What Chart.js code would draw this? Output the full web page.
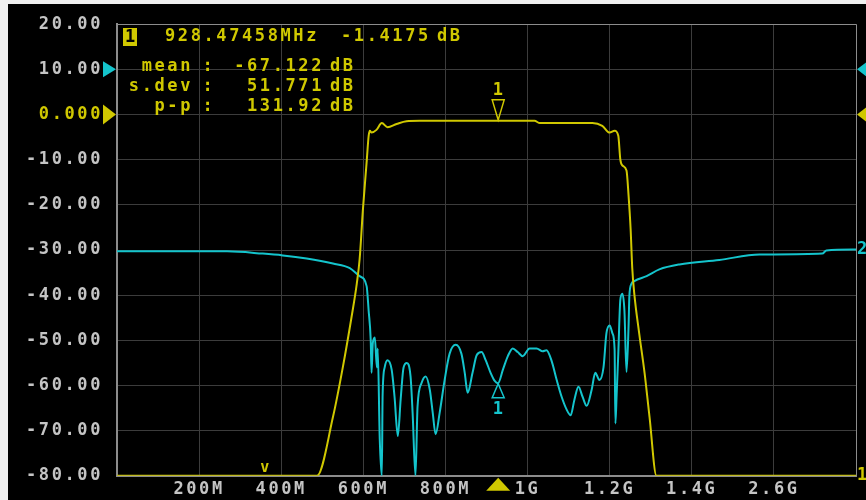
<!DOCTYPE html>
<html>
<head>
<meta charset="utf-8">
<script src="https://cdn.jsdelivr.net/npm/chart.js@4.4.1/dist/chart.umd.min.js"></script>
<style>
body { margin: 0; background: #f0f0f0; }
canvas { display: block; }
</style>
</head>
<body>
<canvas id="grafico" width="866" height="500"></canvas>
<script>
// traço 1 (amarelo) - frequencia em MHz / nivel em dB
const freqTrc1 = [0, 487, 526, 550, 571, 584, 591, 599, 608, 613, 616, 620, 632, 645, 659, 681, 705, 737, 1017, 1030, 1158, 1182, 1200, 1212, 1221, 1226, 1231, 1241, 1246, 1251, 1255, 1260, 1272, 1285, 1297, 1314, 1800]
const dbTrc1 = [-80, -80, -67, -56, -45, -37.5, -32, -21, -10.6, -4.7, -3.6, -4.0, -3.4, -1.9, -2.8, -2.1, -1.5, -1.4, -1.4, -1.9, -1.9, -2.5, -4.0, -3.6, -4.7, -10, -11.3, -12.4, -17.9, -25.3, -34, -39.7, -48.5, -57.2, -66.9, -80, -80]

// traço 2 (ciano)
const freqTrc2 = [0, 268, 355, 404, 462, 526, 567, 591, 608, 613, 618, 620, 623, 628, 633, 635, 640, 645, 647, 652, 659, 669, 676, 684, 691, 698, 706, 715, 720, 727, 732, 742, 752, 762, 769, 776, 786, 798, 810, 825, 839, 847, 854, 866, 876, 888, 898, 910, 920, 928, 940, 952, 964, 976, 988, 1005, 1022, 1037, 1046, 1058, 1071, 1083, 1095, 1105, 1114, 1124, 1134, 1144, 1156, 1165, 1175, 1185, 1192, 1200, 1207, 1212, 1214, 1217, 1221, 1226, 1231, 1236, 1241, 1246, 1248, 1253, 1260, 1290, 1321, 1370, 1467, 1565, 1718, 1728, 1800]
const dbTrc2 = [-30.3, -30.3, -30.8, -31.2, -31.9, -33, -34, -35.8, -38, -43.5, -50, -57.2, -50.7, -49.4, -56, -51.8, -71.9, -80, -62, -56, -54.4, -56.5, -62.5, -71.2, -63, -56, -55, -58, -66, -80, -64.7, -59.4, -58, -61, -66, -70.8, -66, -58.8, -53, -51, -53, -57.2, -61.6, -57.2, -53.3, -52.6, -54.4, -57.2, -59, -59.5, -56.5, -53.5, -51.8, -52.6, -53.5, -51.8, -51.8, -52.4, -52.2, -54.4, -58.8, -62.5, -65.3, -66.6, -63.2, -60.3, -62.5, -64.5, -61, -57.2, -58.8, -56, -48.5, -46.7, -48.5, -52, -68.4, -62, -53, -41, -39.7, -43.5, -57, -47, -40.2, -37.5, -36.9, -35.8, -34.3, -33.2, -32.2, -31, -30.8, -30.1, -29.9]

// eixos
const xTickValores = [200, 400, 600, 800, 1000, 1200, 1400, 1600]
const xTickTextos = ['200M', '400M', '600M', '800M', '1G', '1.2G', '1.4G', '2.6G']
const refTrc1 = 0
const refTrc2 = 10

// marcador e estatisticas
const markerFreq = 928.47458
const markerTexto = ['928.47458MHz', '-1.4175', 'dB']
const statsNomes = ['mean', 's.dev', 'p-p']
const statsValores = ['-67.122', '51.771', '131.92']

const amarelo = '#d0c800'
const ciano = '#14c4cc'
const cinzaTexto = '#c4c4c4'
const fonte = '"DejaVu Sans Mono", monospace'
const espaco = '2.6px'

function pontos(fs, dbs) {
    return fs.map((f, i) => ({x: f, y: dbs[i]}))
}

function valorEm(fs, dbs, f) {
    for (let i = 1; i < fs.length; i++) {
        if (f <= fs[i]) {
            const t = (f - fs[i-1]) / (fs[i] - fs[i-1])
            return dbs[i-1] + t * (dbs[i] - dbs[i-1])
        }
    }
    return dbs[dbs.length-1]
}

function triangulo(ctx, pts, cor, cheio) {
    ctx.beginPath()
    ctx.moveTo(pts[0][0], pts[0][1])
    ctx.lineTo(pts[1][0], pts[1][1])
    ctx.lineTo(pts[2][0], pts[2][1])
    ctx.closePath()
    if (cheio) {
        ctx.fillStyle = cor
        ctx.fill()
    } else {
        ctx.strokeStyle = cor
        ctx.lineWidth = 1.5
        ctx.stroke()
    }
}

// fundo preto + espaçamento das letras
const fundo = {
    id: 'fundo',
    beforeUpdate(chart) {
        chart.ctx.letterSpacing = espaco
    },
    beforeDraw(chart) {
        const ctx = chart.ctx
        ctx.fillStyle = '#f0f0f0'
        ctx.fillRect(0, 0, chart.width, chart.height)
        ctx.fillStyle = '#000'
        ctx.fillRect(8, 4, chart.width - 8, chart.height - 4)
        ctx.letterSpacing = espaco
    }
}

const sobreposicao = {
    id: 'sobreposicao',
    afterDraw(chart) {
        const ctx = chart.ctx
        const x = chart.scales.x
        const y = chart.scales.y
        const area = chart.chartArea
        ctx.save()
        ctx.letterSpacing = espaco
        ctx.font = 'bold 17px ' + fonte
        ctx.textBaseline = 'middle'

        // triangulos de referencia
        const r1 = y.getPixelForValue(refTrc1)
        const r2 = y.getPixelForValue(refTrc2)
        triangulo(ctx, [[103, r2 - 8], [103, r2 + 8], [116, r2]], ciano, true)
        triangulo(ctx, [[103, r1 - 10], [103, r1 + 10], [116, r1]], amarelo, true)
        triangulo(ctx, [[870, r2 - 10], [870, r2 + 10], [857, r2]], ciano, true)
        triangulo(ctx, [[870, r1 - 10], [870, r1 + 10], [857, r1]], amarelo, true)

        // numeros no fim dos traços
        ctx.textAlign = 'left'
        ctx.fillStyle = ciano
        ctx.fillText('2', area.right + 1, y.getPixelForValue(dbTrc2[dbTrc2.length-1]))
        ctx.fillStyle = amarelo
        ctx.fillText('1', area.right + 1, y.getPixelForValue(dbTrc1[dbTrc1.length-1]))

        // marcador 1
        const px = x.getPixelForValue(markerFreq)
        const p1 = y.getPixelForValue(valorEm(freqTrc1, dbTrc1, markerFreq))
        const p2 = y.getPixelForValue(valorEm(freqTrc2, dbTrc2, markerFreq))
        triangulo(ctx, [[px - 6, p1 - 21], [px + 6, p1 - 21], [px, p1 - 1]], amarelo, false)
        triangulo(ctx, [[px - 6, p2 + 15], [px + 6, p2 + 15], [px, p2 + 1]], ciano, false)
        ctx.textAlign = 'center'
        ctx.fillStyle = amarelo
        ctx.fillText('1', px + 1, p1 - 30)
        ctx.fillStyle = ciano
        ctx.fillText('1', px + 1, p2 + 27)

        // estimulo no eixo x
        triangulo(ctx, [[px - 12, area.bottom + 15], [px + 12, area.bottom + 15], [px, area.bottom + 2]], amarelo, true)
        ctx.font = 'bold 15px ' + fonte
        ctx.fillText('v', 266, 468)

        // caixa do marcador
        ctx.font = 'bold 17px ' + fonte
        ctx.fillStyle = amarelo
        ctx.fillRect(123, 28, 14, 18)
        ctx.fillStyle = '#000'
        ctx.letterSpacing = '0px'
        ctx.fillText('1', 130, 38)
        ctx.letterSpacing = espaco

        ctx.fillStyle = amarelo
        ctx.textAlign = 'left'
        ctx.fillText(markerTexto[0], 165, 37)
        ctx.fillText(markerTexto[1], 341, 37)
        ctx.fillText(markerTexto[2], 437, 37)

        for (let i = 0; i < statsNomes.length; i++) {
            const ly = 67 + i * 20
            ctx.textAlign = 'right'
            ctx.fillText(statsNomes[i], 193, ly)
            ctx.fillText(statsValores[i], 324, ly)
            ctx.textAlign = 'center'
            ctx.fillText(':', 209, ly)
            ctx.textAlign = 'left'
            ctx.fillText('dB', 330, ly)
        }
        ctx.restore()
    }
}

new Chart(document.getElementById('grafico'), {
    type: 'line',
    data: {
        datasets: [{
            label: 'Trc1',
            data: pontos(freqTrc1, dbTrc1),
            borderColor: amarelo,
            borderWidth: 2,
            pointRadius: 0,
            cubicInterpolationMode: 'monotone'
        }, {
            label: 'Trc2',
            data: pontos(freqTrc2, dbTrc2),
            borderColor: ciano,
            borderWidth: 2,
            pointRadius: 0,
            cubicInterpolationMode: 'monotone'
        }]
    },
    options: {
        responsive: false,
        animation: false,
        layout: {
            padding: { top: 20, right: 10, left: 0, bottom: 0 }
        },
        plugins: {
            legend: { display: false },
            tooltip: { enabled: false }
        },
        scales: {
            x: {
                type: 'linear',
                min: 0,
                max: 1800,
                afterFit: (s) => { s.height = 23 },
                ticks: {
                    stepSize: 200,
                    autoSkip: false,
                    maxRotation: 0,
                    padding: 4,
                    color: cinzaTexto,
                    font: { family: fonte, size: 17, weight: 'bold' },
                    callback: (v) => {
                        const i = xTickValores.indexOf(v)
                        return i >= 0 ? xTickTextos[i] : ''
                    }
                },
                grid: {
                    drawTicks: false,
                    color: (c) => c.tick && c.tick.value === 1800 ? '#8c8c8c' : '#3c3c3c'
                },
                border: { color: '#8c8c8c', width: 2 }
            },
            y: {
                min: -80,
                max: 20,
                afterFit: (s) => { s.width = 117 },
                ticks: {
                    stepSize: 10,
                    padding: 14,
                    font: { family: fonte, size: 17, weight: 'bold' },
                    color: (c) => c.tick && c.tick.value === 0 ? amarelo : cinzaTexto,
                    callback: (v) => v === 0 ? '0.000' : v.toFixed(2)
                },
                grid: {
                    drawTicks: false,
                    color: (c) => c.tick && c.tick.value === 20 ? '#8c8c8c' : '#3c3c3c'
                },
                border: { color: '#8c8c8c', width: 2 }
            }
        }
    },
    plugins: [fundo, sobreposicao]
})
</script>
</body>
</html>
